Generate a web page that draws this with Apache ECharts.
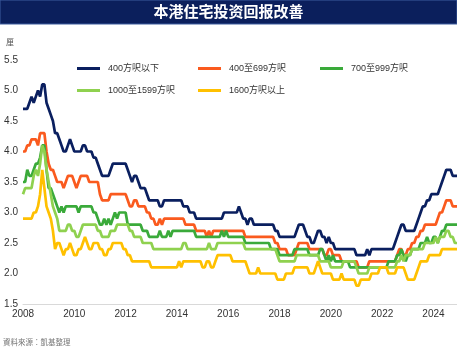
<!DOCTYPE html>
<html>
<head>
<meta charset="utf-8">
<script src="https://cdn.jsdelivr.net/npm/echarts@6/dist/echarts.min.js"></script>
<style>
html,body{margin:0;padding:0;background:#fff;}
#c{width:457px;height:358px;}
</style>
</head>
<body>
<div id="c"></div>
<script>
// ---- data ----
const years = [2008,2009,2010,2011,2012,2013,2014,2015,2016,2017,2018,2019,2020,2021,2022,2023,2024];
const months = ['01','02','03','04','05','06','07','08','09','10','11','12'];
const seriesNames = ['400方呎以下','400至699方呎','700至999方呎','1000至1599方呎','1600方呎以上'];
const yTicks = [1.5,2.0,2.5,3.0,3.5,4.0,4.5,5.0,5.5];

const under400 = [
4.7,4.7,4.7,4.8,4.9,4.8,4.9,5.0,4.9,5.1,5.1,4.8,
4.7,4.6,4.5,4.3,4.3,4.2,4.1,4.0,4.0,4.1,4.2,4.1,
4.0,4.0,4.0,4.0,4.1,4.1,4.0,4.0,4.0,3.9,3.9,3.8,
3.7,3.6,3.6,3.6,3.6,3.7,3.8,3.8,3.8,3.8,3.8,3.8,
3.8,3.7,3.6,3.5,3.6,3.6,3.5,3.4,3.4,3.4,3.3,3.2,
3.2,3.2,3.2,3.2,3.1,3.1,3.2,3.2,3.2,3.2,3.2,3.2,
3.2,3.2,3.2,3.1,3.1,3.1,3.0,3.0,3.0,2.9,2.9,2.9,
2.9,2.9,2.9,2.9,2.9,2.9,2.9,2.9,2.9,2.9,3.0,3.0,
3.0,3.0,3.0,3.0,3.0,3.1,3.0,2.9,2.9,2.8,2.9,2.9,
2.8,2.8,2.8,2.8,2.8,2.8,2.8,2.8,2.8,2.8,2.7,2.7,
2.6,2.6,2.6,2.6,2.6,2.6,2.6,2.6,2.7,2.8,2.8,2.8,
2.7,2.6,2.6,2.5,2.5,2.6,2.7,2.7,2.6,2.6,2.5,2.6,
2.5,2.5,2.4,2.4,2.4,2.4,2.4,2.4,2.4,2.4,2.4,2.4,
2.3,2.3,2.3,2.3,2.3,2.4,2.3,2.4,2.4,2.4,2.4,2.4,
2.4,2.4,2.4,2.4,2.4,2.4,2.5,2.6,2.7,2.8,2.8,2.7,
2.7,2.7,2.7,2.7,2.8,2.9,3.0,3.1,3.1,3.2,3.2,3.3,
3.3,3.3,3.3,3.4,3.5,3.6,3.7,3.7,3.7,3.6,3.6,3.6];

const s400to699 = [
4.0,4.0,4.1,4.1,4.2,4.2,4.2,4.1,4.3,4.3,4.3,4.0,
3.8,3.7,3.7,3.6,3.5,3.5,3.5,3.4,3.5,3.6,3.6,3.6,
3.5,3.4,3.5,3.6,3.6,3.6,3.6,3.5,3.5,3.5,3.5,3.5,
3.3,3.2,3.2,3.2,3.2,3.3,3.3,3.3,3.3,3.3,3.3,3.3,
3.3,3.2,3.1,3.1,3.2,3.2,3.1,3.1,3.1,3.1,3.0,3.0,
2.9,2.9,2.8,2.8,2.9,2.8,2.9,2.9,2.9,2.9,2.9,2.9,
2.9,2.9,2.9,2.9,2.8,2.8,2.8,2.8,2.8,2.7,2.7,2.7,
2.7,2.7,2.6,2.7,2.6,2.7,2.7,2.7,2.7,2.7,2.7,2.7,
2.7,2.7,2.7,2.7,2.7,2.7,2.7,2.7,2.6,2.6,2.6,2.6,
2.6,2.6,2.6,2.6,2.6,2.6,2.6,2.6,2.6,2.6,2.5,2.5,
2.4,2.4,2.4,2.4,2.3,2.3,2.3,2.3,2.4,2.5,2.5,2.5,
2.5,2.5,2.4,2.4,2.4,2.4,2.4,2.4,2.4,2.3,2.3,2.4,
2.4,2.3,2.3,2.3,2.3,2.2,2.2,2.2,2.2,2.2,2.2,2.2,
2.2,2.1,2.1,2.1,2.1,2.1,2.2,2.2,2.2,2.2,2.2,2.2,
2.2,2.2,2.2,2.2,2.2,2.2,2.2,2.3,2.4,2.4,2.3,2.3,
2.4,2.4,2.5,2.5,2.6,2.6,2.7,2.7,2.8,2.8,2.8,2.8,
2.8,2.8,2.9,3.0,3.0,3.1,3.2,3.2,3.2,3.1,3.1,3.1];

const s700to999 = [
3.5,3.5,3.7,3.6,3.6,3.7,3.8,3.8,3.9,4.1,4.1,3.7,
3.4,3.4,3.3,3.2,3.1,3.0,3.1,3.0,3.1,3.1,3.1,3.1,
3.1,3.1,3.0,3.1,3.1,3.1,3.1,3.1,3.1,3.0,3.0,2.9,
2.8,2.8,2.9,2.8,2.9,2.8,2.9,3.0,2.9,3.0,3.0,3.0,
3.0,2.8,2.8,2.8,2.8,2.8,2.8,2.8,2.7,2.7,2.7,2.6,
2.6,2.6,2.6,2.6,2.7,2.6,2.6,2.6,2.7,2.6,2.7,2.7,
2.7,2.7,2.7,2.7,2.7,2.7,2.7,2.7,2.7,2.6,2.6,2.6,
2.6,2.6,2.6,2.6,2.6,2.6,2.6,2.6,2.6,2.7,2.6,2.7,
2.6,2.6,2.6,2.6,2.6,2.6,2.6,2.6,2.5,2.5,2.5,2.5,
2.5,2.5,2.5,2.5,2.5,2.5,2.5,2.5,2.4,2.4,2.4,2.4,
2.3,2.3,2.3,2.3,2.3,2.3,2.3,2.4,2.4,2.4,2.4,2.4,
2.4,2.4,2.3,2.3,2.3,2.3,2.3,2.4,2.4,2.3,2.2,2.3,
2.2,2.3,2.2,2.2,2.2,2.2,2.2,2.2,2.2,2.1,2.1,2.1,
2.1,2.1,2.1,2.1,2.1,2.1,2.1,2.1,2.1,2.1,2.1,2.1,
2.1,2.1,2.1,2.2,2.2,2.2,2.2,2.3,2.3,2.4,2.3,2.2,
2.3,2.3,2.4,2.4,2.4,2.4,2.5,2.5,2.5,2.6,2.5,2.5,
2.6,2.6,2.5,2.6,2.7,2.7,2.8,2.8,2.8,2.8,2.8,2.8];

const s1000to1599 = [
3.3,3.4,3.4,3.4,3.4,3.6,3.7,3.6,3.8,4.1,4.0,3.7,
3.5,3.3,3.1,3.0,2.9,2.7,2.7,2.7,2.7,2.8,2.8,2.7,
2.7,2.6,2.6,2.7,2.8,2.8,2.8,2.8,2.8,2.8,2.8,2.7,
2.7,2.6,2.6,2.6,2.6,2.7,2.7,2.7,2.8,2.8,2.8,2.8,
2.8,2.8,2.7,2.7,2.6,2.6,2.6,2.6,2.5,2.5,2.5,2.5,
2.5,2.4,2.4,2.4,2.4,2.4,2.4,2.4,2.4,2.4,2.4,2.4,
2.4,2.4,2.4,2.5,2.5,2.4,2.4,2.4,2.4,2.4,2.4,2.4,
2.4,2.4,2.4,2.5,2.4,2.4,2.4,2.5,2.5,2.5,2.5,2.5,
2.5,2.5,2.5,2.5,2.5,2.5,2.5,2.5,2.4,2.4,2.4,2.4,
2.4,2.4,2.4,2.4,2.4,2.4,2.4,2.4,2.4,2.4,2.4,2.3,
2.2,2.2,2.2,2.2,2.2,2.2,2.2,2.2,2.3,2.3,2.3,2.3,
2.3,2.3,2.3,2.3,2.3,2.3,2.3,2.2,2.2,2.2,2.2,2.2,
2.1,2.1,2.1,2.1,2.1,2.1,2.2,2.2,2.2,2.2,2.2,2.2,
2.1,2.0,2.0,2.0,2.0,2.0,2.1,2.1,2.1,2.1,2.1,2.1,
2.1,2.1,2.1,2.1,2.1,2.1,2.1,2.2,2.2,2.3,2.2,2.3,
2.3,2.3,2.4,2.4,2.4,2.4,2.4,2.4,2.5,2.5,2.5,2.5,
2.5,2.6,2.5,2.6,2.6,2.6,2.7,2.7,2.6,2.6,2.5,2.5];

const s1600above = [
2.9,2.9,2.9,2.9,2.9,3.0,3.0,3.1,3.3,3.7,3.4,3.1,
3.0,2.9,2.7,2.4,2.5,2.5,2.4,2.3,2.4,2.4,2.5,2.4,
2.3,2.3,2.4,2.4,2.5,2.6,2.5,2.4,2.4,2.5,2.5,2.5,
2.4,2.4,2.3,2.3,2.4,2.4,2.5,2.5,2.5,2.5,2.5,2.4,
2.4,2.3,2.3,2.2,2.2,2.2,2.2,2.2,2.2,2.2,2.2,2.2,
2.1,2.1,2.1,2.1,2.1,2.1,2.1,2.1,2.1,2.1,2.1,2.1,
2.1,2.2,2.1,2.2,2.2,2.2,2.2,2.2,2.2,2.2,2.2,2.2,
2.1,2.1,2.2,2.2,2.1,2.1,2.2,2.3,2.3,2.3,2.3,2.3,
2.3,2.3,2.2,2.2,2.2,2.2,2.2,2.2,2.2,2.1,2.0,2.0,
2.0,2.0,2.1,2.0,2.0,2.0,2.0,2.0,2.0,2.0,2.0,1.9,
1.9,1.9,1.9,2.0,2.0,2.0,2.0,2.1,2.1,2.1,2.1,2.1,
2.1,2.1,2.0,2.0,2.0,2.1,2.2,2.1,2.0,2.0,2.0,2.0,
2.0,1.9,1.9,1.9,1.9,2.0,1.9,1.9,1.9,1.9,1.9,1.9,
1.8,1.8,1.9,1.9,1.9,1.9,1.9,2.0,2.0,2.0,2.0,2.1,
2.1,2.1,2.1,2.0,2.0,2.0,2.0,2.1,2.1,2.1,2.1,2.0,
1.9,1.9,1.9,1.9,2.0,2.1,2.2,2.2,2.2,2.2,2.3,2.3,
2.3,2.3,2.3,2.3,2.4,2.4,2.4,2.4,2.4,2.4,2.4,2.4];

const categories = [];
years.forEach(y => months.forEach(m => categories.push(y + '-' + m)));

// ---- chart ----
const colors = ['#0a1f5f','#fa5a1e','#3aaa3a','#8fd14f','#ffc000'];
const seriesData = [under400, s400to699, s700to999, s1000to1599, s1600above];
const FONT = '"Liberation Sans", "Noto Sans CJK TC", sans-serif';

const legendPos = [[77,64],[198,64],[320,64],[77,86],[198,86]];
const legends = seriesNames.map((n,i) => ({
  data: [n], left: legendPos[i][0], top: legendPos[i][1], padding: 0,
  icon: 'rect', itemWidth: 23, itemHeight: 3,
  textStyle: {fontSize: 9, color: '#333', fontFamily: FONT, padding: [0,0,0,3]},
  selectedMode: false
}));

const chart = echarts.init(document.getElementById('c'), null, {renderer: 'canvas'});
chart.setOption({
  animation: false,
  color: colors,
  textStyle: {fontFamily: FONT},
  graphic: [
    {type: 'rect', shape: {x: 0, y: 0, width: 457, height: 24},
     style: {fill: '#0b1f5c', stroke: '#3d5c9e', lineWidth: 1}},
    {type: 'text', left: 'center', top: 4,
     style: {text: '本港住宅投资回报改善', fill: '#fff', font: 'bold 15px "Noto Sans CJK SC", sans-serif'}},
    {type: 'text', left: 6, top: 38,
     style: {text: '厘', fill: '#555', font: '8px "Noto Sans CJK TC", sans-serif'}},
    {type: 'text', left: 3, top: 338,
     style: {text: '資料來源：凱基整理', fill: '#777', font: '7.5px "Noto Sans CJK TC", sans-serif'}}
  ],
  legend: legends,
  grid: {left: 23, right: 0, top: 60, bottom: 54, containLabel: false},
  xAxis: {
    type: 'category', data: categories, boundaryGap: false,
    axisLine: {show: true, lineStyle: {color: '#d9d9d9', width: 1}},
    axisTick: {show: false},
    axisLabel: {
      color: '#333', fontSize: 10, margin: 5, fontFamily: FONT,
      interval: (idx, val) => val.slice(5) === '01' && (+val.slice(0,4)) % 2 === 0,
      formatter: v => v.slice(0,4)
    },
    splitLine: {show: false}
  },
  yAxis: {
    type: 'value', min: yTicks[0], max: yTicks[yTicks.length-1], interval: 0.5,
    axisLine: {show: false}, axisTick: {show: false}, splitLine: {show: false},
    axisLabel: {color: '#333', fontSize: 10, margin: 5, fontFamily: FONT,
      formatter: v => v.toFixed(1)}
  },
  series: seriesNames.map((n,i) => ({
    name: n, type: 'line', data: seriesData[i], showSymbol: false, symbol: 'none',
    lineStyle: {width: 2.7, color: colors[i]}, itemStyle: {color: colors[i]}
  }))
});
</script>
</body>
</html>
